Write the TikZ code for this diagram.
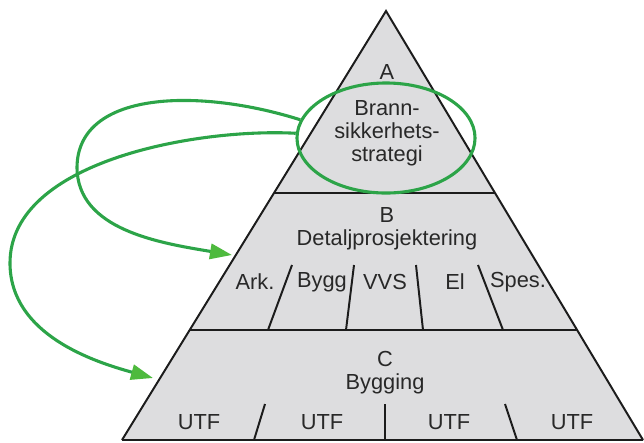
\documentclass[tikz,border=0pt]{standalone}
\usepackage{fontspec}
\setmainfont{Liberation Sans}
\usetikzlibrary{arrows.meta,shapes.geometric}
\definecolor{pyrgray}{RGB}{221,221,223}
\definecolor{linegreen}{RGB}{44,164,72}
\definecolor{tipgreen}{RGB}{78,186,62}
\definecolor{inkgray}{RGB}{40,40,40}
\begin{document}
\begin{tikzpicture}[x=0.025cm,y=-0.025cm,
  lbl/.style={font=\fontsize{15.5}{16.4}\selectfont,text=inkgray,inner sep=0pt,align=center},
  wall/.style={line width=1.4pt,color=inkgray!70!black},
  flow/.style={draw=linegreen,line width=2.2pt,-{Triangle[length=0.55cm,width=0.38cm,color=tipgreen,fill=tipgreen]}}]

\useasboundingbox (0,0) rectangle (644,442);
\clip (0,0) rectangle (644,442);

\coordinate (top) at (386,11);
\coordinate (bl) at (122,440);
\coordinate (br) at (643,440);
\coordinate (abl) at (274,193);
\coordinate (abr) at (495,193);
\coordinate (bcl) at (190,330);
\coordinate (bcr) at (577,330);

\fill[pyrgray] (top)--(bl)--(br)--cycle;
\draw[wall] (bl)--(top)--(br) (abl)--(abr) (bcl)--(bcr) (bl)--(br);

\foreach \xa/\xb in {292/268,354/346,416/423,478/503}
{
\draw[wall] (\xa,265)--(\xb,330);
}
\foreach \xa/\xb in {265/254,385/385,505/517}
{
\draw[wall] (\xa,404)--(\xb,440);
}

\node[lbl] (a) at (387,72) {A};
\node[lbl] (brann) at (387,133) {Brann-\\sikkerhets-\\strategi};
\node[lbl] (b) at (387,229) {B\\Detaljprosjektering};
\node[lbl] (c) at (385,373) {C\\Bygging};

\foreach \x/\t/\n in {255/Ark./ark,322/Bygg/bygg,385/VVS/vvs,455/El/el,518/Spes./spes}
{
\node[lbl] (\n) at (\x,282) {\t};
}
\foreach \x/\n in {199/u1,322/u2,449/u3,572/u4}
{
\node[lbl] (\n) at (\x,422) {UTF};
}

\node[draw=linegreen,line width=2.2pt,ellipse,minimum width=4.45cm,minimum height=2.75cm,inner sep=0pt] (strat) at (386,138) {};

\coordinate (tipb) at (232,255);
\coordinate (tipc) at (153,378);

\draw[flow] (strat.168) .. controls (200,88) and (78,90) .. (77,167) .. controls (77,230) and (160,243) .. (tipb);
\draw[flow] (strat.177) .. controls (200,128) and (10,160) .. (10,263) .. controls (10,335) and (95,362) .. (tipc);
\end{tikzpicture}
\end{document}
